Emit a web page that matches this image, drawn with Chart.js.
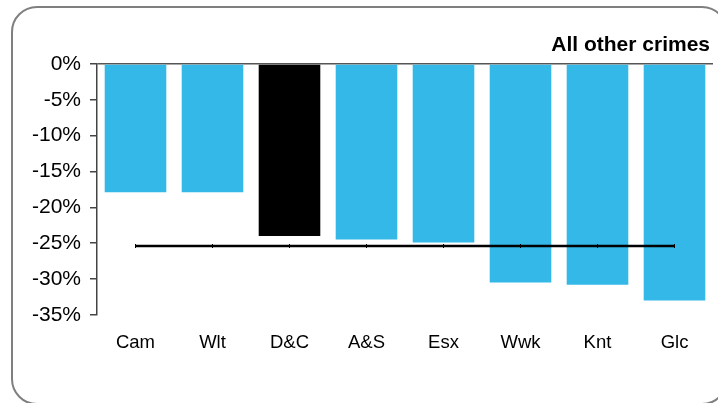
<!DOCTYPE html>
<html>
<head>
<meta charset="utf-8">
<script src="https://cdn.jsdelivr.net/npm/chart.js@4"></script>
<style>
  html, body { margin: 0; padding: 0; background: #fff; }
  #wrap { position: relative; width: 718px; height: 403px; overflow: hidden; }
  #frame {
    position: absolute; left: 11px; top: 6px; width: 713px; height: 395px;
    border: 2px solid #7f7f7f; border-radius: 26px; pointer-events: none;
  }
  canvas { position: absolute; left: 0; top: 0; }
</style>
</head>
<body>
<div id="wrap">
  <canvas id="chart" width="718" height="403"></canvas>
  <div id="frame"></div>
</div>
<script>
// Chart data
const forces = ["Cam", "Wlt", "D&C", "A&S", "Esx", "Wwk", "Knt", "Glc"];
const change = [-17.9, -17.9, -24.0, -24.5, -24.9, -30.5, -30.8, -33.0];
const average = [-25.4, -25.4, -25.4, -25.4, -25.4, -25.4, -25.4, -25.4];
const highlight = "D&C";
const yTicks = [0, -5, -10, -15, -20, -25, -30, -35];

const blue = "#33b8e8";

document.addEventListener("DOMContentLoaded", () => {
    const ctx = document.getElementById("chart").getContext("2d");

    // title drawn right-aligned above the plot
    const titlePlugin = {
        id: "cornerTitle",
        afterDraw(chart) {
            const c = chart.ctx;
            c.save();
            c.font = "bold 21px 'Liberation Sans', Arial, sans-serif";
            c.fillStyle = "#000";
            c.textAlign = "right";
            c.textBaseline = "middle";
            c.fillText("All other crimes", chart.chartArea.right - 3, 45);
            c.restore();
        }
    };

    new Chart(ctx, {
        data: {
            labels: forces,
            datasets: [
                {
                    type: "line",
                    data: average,
                    borderColor: "#000",
                    borderWidth: 2.5,
                    pointStyle: "line",
                    rotation: 90,
                    pointRadius: 2,
                    pointBorderWidth: 1,
                    pointBorderColor: "#000",
                    order: 0
                },
                {
                    type: "bar",
                    data: change,
                    backgroundColor: forces.map(f => f === highlight ? "#000" : blue),
                    barPercentage: 0.8,
                    categoryPercentage: 1,
                    order: 1
                }
            ]
        },
        options: {
            responsive: false,
            animation: false,
            layout: { padding: { top: 64, right: 3, bottom: 40, left: 0 } },
            plugins: { legend: { display: false }, tooltip: { enabled: false } },
            scales: {
                x: {
                    grid: { display: false },
                    border: { display: false },
                    ticks: {
                        color: "#000",
                        padding: 9,
                        font: { family: "'Liberation Sans', Arial, sans-serif", size: 18.5 }
                    }
                },
                y: {
                    min: -35,
                    max: 0,
                    afterBuildTicks: axis => { axis.ticks = yTicks.map(v => ({ value: v })); },
                    afterFit: axis => { axis.width = 97; },
                    grid: {
                        drawOnChartArea: true,
                        color: c => c.tick && c.tick.value === 0 ? "#555" : "rgba(0,0,0,0)",
                        tickColor: "#444",
                        tickLength: 7,
                        lineWidth: 1.5
                    },
                    border: { color: "#444", width: 1.5 },
                    ticks: {
                        color: "#000",
                        padding: 9,
                        callback: v => v + "%",
                        font: { family: "'Liberation Sans', Arial, sans-serif", size: 21 }
                    }
                }
            }
        },
        plugins: [titlePlugin]
    });
});
</script>
</body>
</html>
